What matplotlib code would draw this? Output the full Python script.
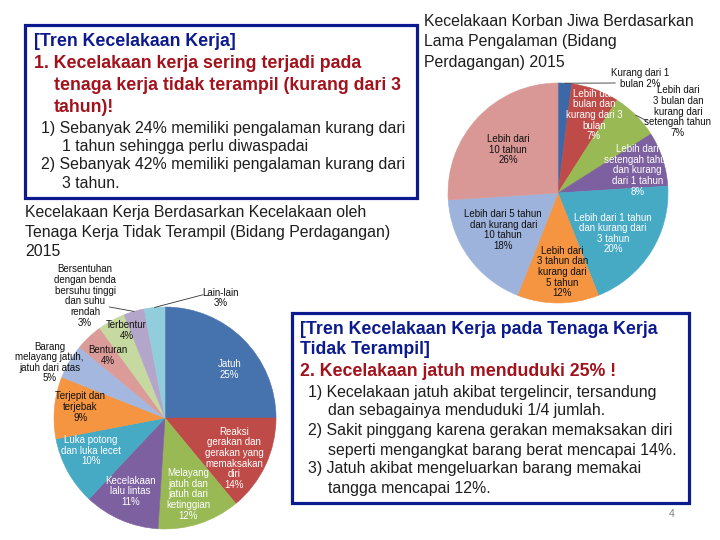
import matplotlib
matplotlib.use("Agg")
import matplotlib.pyplot as plt
import numpy as np

plt.rcParams['font.family'] = ['Liberation Sans', 'DejaVu Sans']

W, H = 720, 540

# --- data: experience pie (top right) ---
exp_labels = ["Kurang dari 1\nbulan 2%",
              "Lebih dari\nbulan dan\nkurang dari 3\nbulan\n7%",
              "Lebih dari\n3 bulan dan\nkurang dari\nsetengah tahun\n7%",
              "Lebih dari\nsetengah tahun\ndan kurang\ndari 1 tahun\n8%",
              "Lebih dari 1 tahun\ndan kurang dari\n3 tahun\n20%",
              "Lebih dari\n3 tahun dan\nkurang dari\n5 tahun\n12%",
              "Lebih dari 5 tahun\ndan kurang dari\n10 tahun\n18%",
              "Lebih dari\n10 tahun\n26%"]
exp_values = [2, 7, 7, 8, 20, 12, 18, 26]

# --- data: accident type pie (bottom left) ---
acc_labels = ["Jatuh\n25%",
              "Reaksi\ngerakan dan\ngerakan yang\nmemaksakan\ndiri\n14%",
              "Melayang\njatuh dan\njatuh dari\nketinggian\n12%",
              "Kecelakaan\nlalu lintas\n11%",
              "Luka potong\ndan luka lecet\n10%",
              "Terjepit dan\nterjebak\n9%",
              "Barang\nmelayang jatuh,\njatuh dari atas\n5%",
              "Benturan\n4%",
              "Terbentur\n4%",
              "Bersentuhan\ndengan benda\nbersuhu tinggi\ndan suhu\nrendah\n3%",
              "Lain-lain\n3%"]
acc_values = [25, 14, 12, 11, 10, 9, 5, 4, 4, 3, 3]

# --- styles ---
exp_colors = ["#3D68A8", "#BE4B48", "#98B954", "#7D60A0", "#46AAC5",
              "#F59441", "#9DB3DC", "#D99896"]
acc_colors = ["#4672AE", "#BE4B48", "#98B954", "#7D60A0", "#46AAC5",
              "#F59441", "#A4B8DF", "#DB9B99", "#C6D9A0", "#B4A5CB", "#92CDDC"]
# (angle offset from wedge middle, radius fraction, text colour) or explicit xy
exp_place = [("xy", (0.745, 1.04), "k", (0.063, 0.998), (0.52, 1.0)),
             (-5, 0.78, "w"),
             ("xy", (1.09, 0.74), "k", (0.707, 0.707), (0.80, 0.66)),
             (-2, 0.75, "w"),
             (-4, 0.62, "w"),
             (3, 0.72, "k"),
             (-2, 0.60, "k"),
             (2, 0.60, "k")]
acc_place = [(-8, 0.73, "w"),
             (-5, 0.72, "w"),
             (-1, 0.72, "w"),
             (-2, 0.73, "w"),
             (-5, 0.73, "w"),
             (-2, 0.77, "k"),
             ("xy", (-1.04, 0.50), "k", None, None),
             (-1, 0.76, "k"),
             (-5, 0.86, "k"),
             ("xy", (-0.72, 1.10), "k", (-0.279, 0.96), (-0.50, 1.0)),
             ("xy", (0.50, 1.08), "k", (-0.094, 0.996), (0.34, 1.11))]

BLUE = "#0B1A8E"
RED = "#A3121B"
TXT = "#1E1E1E"
BOLD_FS = 12.8
BODY_FS = 11.4
PIE_FS = 7.0


def fx(x):
    return x / W


def fy(y):
    return 1 - y / H


def draw_pie(fig, cx, cy, r, values, labels, colors, place):
    R = 1.8 * r
    ax = fig.add_axes([fx(cx - R), fy(cy + R), 2 * R / W, 2 * R / H])
    wedges, _ = ax.pie(values, colors=colors, startangle=90, counterclock=False,
                       radius=1.0)
    for w in wedges:
        w.set_edgecolor(w.get_facecolor())
        w.set_linewidth(0.4)
    ax.set_xlim(-R / r, R / r)
    ax.set_ylim(-R / r, R / r)
    ax.axis("off")
    for w, lab, p in zip(wedges, labels, place):
        mid = np.deg2rad((w.theta1 + w.theta2) / 2)
        if p[0] == "xy":
            x, y = p[1]
            if p[3] is not None:
                ax.plot([p[3][0], p[4][0]], [p[3][1], p[4][1]], color="#333333",
                        lw=0.6, clip_on=False)
        else:
            a = mid + np.deg2rad(p[0])
            x, y = p[1] * np.cos(a), p[1] * np.sin(a)
        ax.text(x, y, lab, ha="center", va="center", fontsize=PIE_FS,
                color="white" if p[2] == "w" else "#111111",
                linespacing=1.08, clip_on=False)
    return ax


fig = plt.figure(figsize=(7.2, 5.4), dpi=100)
fig.patch.set_facecolor("white")

# text box 1
fig.patches.append(plt.Rectangle((fx(25), fy(198)), fx(392), 173 / H,
                                 transform=fig.transFigure, fill=False,
                                 edgecolor=BLUE, linewidth=2.3))
fig.text(fx(34), fy(42), "[Tren Kecelakaan Kerja]", color=BLUE, fontsize=BOLD_FS,
         fontweight="bold", va="center")
fig.text(fx(34), fy(63), "1. Kecelakaan kerja sering terjadi pada", color=RED,
         fontsize=BOLD_FS, fontweight="bold", va="center")
fig.text(fx(54), fy(85), "tenaga kerja tidak terampil (kurang dari 3", color=RED,
         fontsize=BOLD_FS, fontweight="bold", va="center")
fig.text(fx(54), fy(107), "tahun)!", color=RED, fontsize=BOLD_FS,
         fontweight="bold", va="center")
body1 = [(41, 128, "1) Sebanyak 24% memiliki pengalaman kurang dari"),
         (62, 147, "1 tahun sehingga perlu diwaspadai"),
         (41, 165, "2) Sebanyak 42% memiliki pengalaman kurang dari"),
         (62, 184, "3 tahun.")]
for x, y, s in body1:
    fig.text(fx(x), fy(y), s, color=TXT, fontsize=BODY_FS, va="center")

# caption left
for y, s in [(213, "Kecelakaan Kerja Berdasarkan Kecelakaan oleh"),
             (232, "Tenaga Kerja Tidak Terampil (Bidang Perdagangan)"),
             (251, "2015")]:
    fig.text(fx(25), fy(y), s, color=TXT, fontsize=BODY_FS, va="center")

# title right
for y, s in [(22, "Kecelakaan Korban Jiwa Berdasarkan"),
             (42, "Lama Pengalaman (Bidang"),
             (62, "Perdagangan) 2015")]:
    fig.text(fx(424), fy(y), s, color=TXT, fontsize=BODY_FS, va="center")

# text box 2
fig.patches.append(plt.Rectangle((fx(292), fy(503)), fx(397), 190 / H,
                                 transform=fig.transFigure, fill=False,
                                 edgecolor=BLUE, linewidth=2.3))
fig.text(fx(300), fy(330), "[Tren Kecelakaan Kerja pada Tenaga Kerja",
         color=BLUE, fontsize=BOLD_FS, fontweight="bold", va="center")
fig.text(fx(300), fy(350), "Tidak Terampil]", color=BLUE, fontsize=BOLD_FS,
         fontweight="bold", va="center")
fig.text(fx(300), fy(372), "2. Kecelakaan jatuh menduduki 25% !", color=RED,
         fontsize=BOLD_FS, fontweight="bold", va="center")
body2 = [(308, 392, "1) Kecelakaan jatuh akibat tergelincir, tersandung"),
         (328, 411, "dan sebagainya menduduki 1/4 jumlah."),
         (308, 430, "2) Sakit pinggang karena gerakan memaksakan diri"),
         (328, 450, "seperti mengangkat barang berat mencapai 14%."),
         (308, 468, "3) Jatuh akibat mengeluarkan barang memakai"),
         (328, 488, "tangga mencapai 12%.")]
for x, y, s in body2:
    fig.text(fx(x), fy(y), s, color=TXT, fontsize=BODY_FS, va="center")

fig.text(fx(672), fy(514), "4", color="#808080", fontsize=7.5,
         ha="center", va="center")

draw_pie(fig, 558, 193, 110, exp_values, exp_labels, exp_colors, exp_place)
draw_pie(fig, 165, 418, 111, acc_values, acc_labels, acc_colors, acc_place)

fig.savefig("out.png", dpi=100, facecolor="white")
